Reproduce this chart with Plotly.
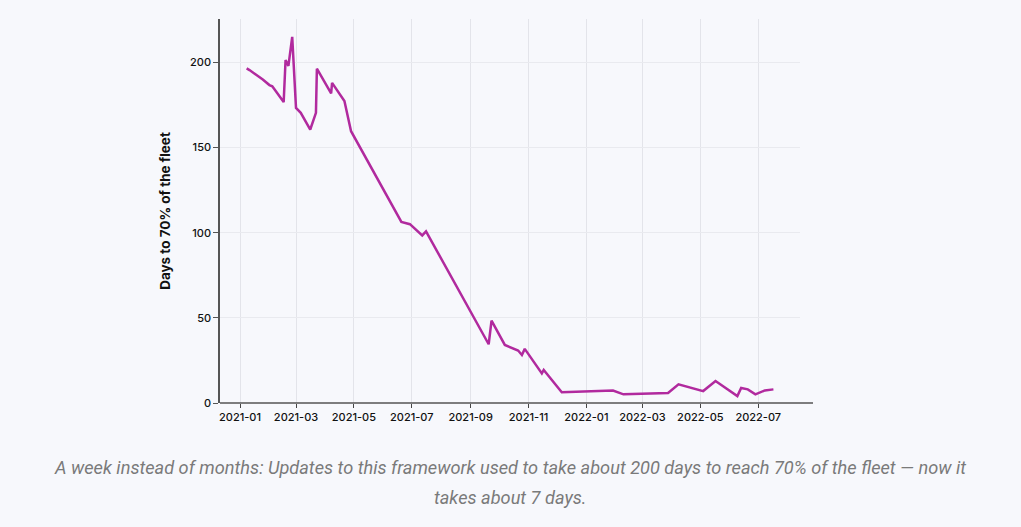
import plotly.graph_objects as go

dates = [
    "2021-01-08", "2021-01-11", "2021-01-25", "2021-02-01", "2021-02-04", "2021-02-16",
    "2021-02-18", "2021-02-21", "2021-02-25", "2021-03-01", "2021-03-06", "2021-03-16",
    "2021-03-22", "2021-03-23", "2021-04-07", "2021-04-08", "2021-04-21", "2021-04-28",
    "2021-06-20", "2021-06-29", "2021-07-12", "2021-07-16", "2021-09-20", "2021-09-23",
    "2021-10-07", "2021-10-21", "2021-10-25", "2021-10-28", "2021-11-15", "2021-11-17",
    "2021-12-06", "2022-01-29", "2022-02-09", "2022-03-28", "2022-04-08", "2022-05-04",
    "2022-05-17", "2022-06-09", "2022-06-13", "2022-06-20", "2022-06-28", "2022-07-08",
    "2022-07-17",
]
days = [
    196.5, 195.5, 190, 186.7, 186, 176.7,
    201.4, 198, 215, 173.3, 170.4, 160.6,
    170.4, 196.3, 181.8, 188, 177.3, 159.6,
    106.3, 105, 98.4, 100.8, 34.5, 48.4,
    34.1, 30.8, 28.2, 31.8, 17.4, 19.4,
    6.3, 7.3, 5.1, 5.9, 11, 7,
    12.9, 4.1, 8.8, 8, 5.1, 7.4,
    8,
]

y_title = "Days to 70% of the fleet"
caption_lines = [
    "A week instead of months: Updates to this framework used to take about 200 days to reach 70% of the fleet \u2014 now it",
    "takes about 7 days.",
]

bg = "#f7f8fc"
fig = go.Figure()
fig.add_trace(go.Scatter(
    x=dates, y=days, mode="lines",
    line=dict(color="#b12a9e", width=2.5),
    hoverinfo="skip",
))

W, H = 1021, 527
L, R, T, B = 220, 221, 19, 124
pw = W - L - R
ph = H - T - B

fig.update_layout(
    width=W, height=H,
    margin=dict(l=L, r=R, t=T, b=B, pad=0),
    paper_bgcolor=bg, plot_bgcolor=bg,
    showlegend=False,
    font=dict(family="Inter, Roboto, sans-serif", color="#111"),
    xaxis=dict(
        type="date",
        range=["2020-12-10 22:00", "2022-08-14"],
        tick0="2021-01-01", dtick="M2", tickformat="%Y-%m",
        showgrid=True, gridcolor="#e3e4ea", gridwidth=1,
        showline=False, zeroline=False,
        ticks="outside", ticklen=4, tickcolor="#444",
        tickfont=dict(size=11, color="#111", family="Inter, Roboto, sans-serif", weight=500),
    ),
    yaxis=dict(
        range=[0, 225.5],
        tickvals=[0, 50, 100, 150, 200],
        showgrid=True, gridcolor="#e9eaef", gridwidth=1,
        showline=True, linecolor="#555", linewidth=1.5,
        zeroline=False,
        ticks="outside", ticklen=5, tickcolor="#555",
        tickfont=dict(size=11, color="#111", family="Inter, Roboto, sans-serif", weight=500),
        title=dict(text=y_title, font=dict(size=13.5, color="#111", family="Inter, Roboto, sans-serif", weight="bold"), standoff=16),
    ),
)

# x axis baseline extending slightly past the plot area
fig.add_shape(type="line", xref="paper", yref="paper",
              x0=0, x1=1 + 13 / pw, y0=0, y1=0,
              line=dict(color="#555", width=1.5))

for line_text, ypix in zip(caption_lines, [467, 497]):
    fig.add_annotation(
        text=line_text, xref="paper", yref="paper",
        x=(510 - L) / pw, y=-(ypix - (H - B)) / ph,
        xanchor="center", yanchor="middle", showarrow=False,
        align="center",
        font=dict(size=18.2, color="#7a7a7a", family="Roboto, Inter, sans-serif", style="italic"),
    )

fig.write_html("out.html")
